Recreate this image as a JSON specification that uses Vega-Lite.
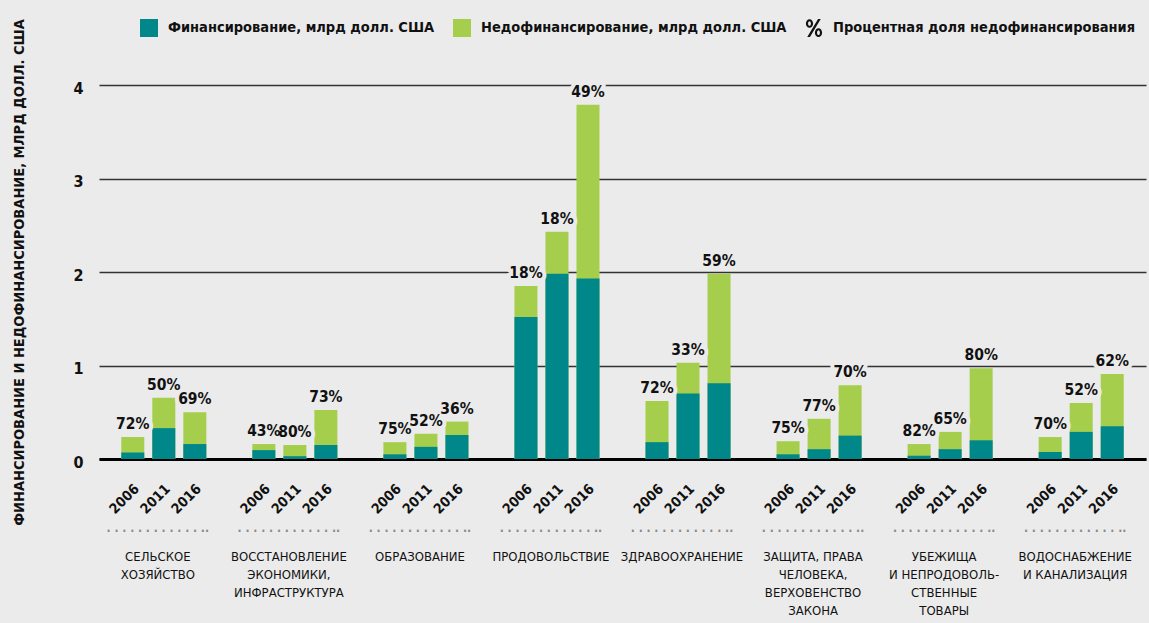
{
  "$schema": "https://vega.github.io/schema/vega-lite/v6.json",
  "autosize": "none",
  "width": 1047,
  "height": 374,
  "padding": {"left": 99, "top": 85, "right": 3, "bottom": 164},
  "background": "#ebebeb",
  "config": {
    "font": "DejaVu Sans Condensed, sans-serif",
    "view": {"stroke": null}
  },
  "data": {
    "values": [
      {"c": "СЕЛЬСКОЕ\nХОЗЯЙСТВО", "y": "2006", "f": 0.07, "t": 0.235, "p": 0.72},
      {"c": "СЕЛЬСКОЕ\nХОЗЯЙСТВО", "y": "2011", "f": 0.33, "t": 0.655, "p": 0.50},
      {"c": "СЕЛЬСКОЕ\nХОЗЯЙСТВО", "y": "2016", "f": 0.16, "t": 0.5, "p": 0.69},
      {"c": "ВОССТАНОВЛЕНИЕ\nЭКОНОМИКИ,\nИНФРАСТРУКТУРА", "y": "2006", "f": 0.095, "t": 0.16, "p": 0.43},
      {"c": "ВОССТАНОВЛЕНИЕ\nЭКОНОМИКИ,\nИНФРАСТРУКТУРА", "y": "2011", "f": 0.03, "t": 0.15, "p": 0.80},
      {"c": "ВОССТАНОВЛЕНИЕ\nЭКОНОМИКИ,\nИНФРАСТРУКТУРА", "y": "2016", "f": 0.15, "t": 0.525, "p": 0.73},
      {"c": "ОБРАЗОВАНИЕ", "y": "2006", "f": 0.05, "t": 0.18, "p": 0.75},
      {"c": "ОБРАЗОВАНИЕ", "y": "2011", "f": 0.13, "t": 0.27, "p": 0.52},
      {"c": "ОБРАЗОВАНИЕ", "y": "2016", "f": 0.257, "t": 0.4, "p": 0.36},
      {"c": "ПРОДОВОЛЬСТВИЕ", "y": "2006", "f": 1.52, "t": 1.85, "p": 0.18},
      {"c": "ПРОДОВОЛЬСТВИЕ", "y": "2011", "f": 1.98, "t": 2.43, "p": 0.18},
      {"c": "ПРОДОВОЛЬСТВИЕ", "y": "2016", "f": 1.93, "t": 3.79, "p": 0.49},
      {"c": "ЗДРАВООХРАНЕНИЕ", "y": "2006", "f": 0.18, "t": 0.62, "p": 0.72},
      {"c": "ЗДРАВООХРАНЕНИЕ", "y": "2011", "f": 0.7, "t": 1.03, "p": 0.33},
      {"c": "ЗДРАВООХРАНЕНИЕ", "y": "2016", "f": 0.81, "t": 1.98, "p": 0.59},
      {"c": "ЗАЩИТА, ПРАВА\nЧЕЛОВЕКА,\nВЕРХОВЕНСТВО\nЗАКОНА", "y": "2006", "f": 0.05, "t": 0.19, "p": 0.75},
      {"c": "ЗАЩИТА, ПРАВА\nЧЕЛОВЕКА,\nВЕРХОВЕНСТВО\nЗАКОНА", "y": "2011", "f": 0.105, "t": 0.43, "p": 0.77},
      {"c": "ЗАЩИТА, ПРАВА\nЧЕЛОВЕКА,\nВЕРХОВЕНСТВО\nЗАКОНА", "y": "2016", "f": 0.25, "t": 0.79, "p": 0.70},
      {"c": "УБЕЖИЩА\nИ НЕПРОДОВОЛЬ-\nСТВЕННЫЕ\nТОВАРЫ", "y": "2006", "f": 0.035, "t": 0.16, "p": 0.82},
      {"c": "УБЕЖИЩА\nИ НЕПРОДОВОЛЬ-\nСТВЕННЫЕ\nТОВАРЫ", "y": "2011", "f": 0.105, "t": 0.29, "p": 0.65},
      {"c": "УБЕЖИЩА\nИ НЕПРОДОВОЛЬ-\nСТВЕННЫЕ\nТОВАРЫ", "y": "2016", "f": 0.2, "t": 0.97, "p": 0.80},
      {"c": "ВОДОСНАБЖЕНИЕ\nИ КАНАЛИЗАЦИЯ", "y": "2006", "f": 0.075, "t": 0.235, "p": 0.70},
      {"c": "ВОДОСНАБЖЕНИЕ\nИ КАНАЛИЗАЦИЯ", "y": "2011", "f": 0.29, "t": 0.6, "p": 0.52},
      {"c": "ВОДОСНАБЖЕНИЕ\nИ КАНАЛИЗАЦИЯ", "y": "2016", "f": 0.35, "t": 0.91, "p": 0.62}
    ]
  },
  "encoding": {
    "x": {
      "field": "c", "type": "nominal", "sort": null,
      "scale": {"paddingInner": 0.351, "paddingOuter": 0.17},
      "axis": {
        "title": null, "orient": "bottom",
        "domain": true, "domainColor": "#000", "domainWidth": 3,
        "ticks": false, "labelAngle": 0, "labelAlign": "center", "labelBaseline": "top",
        "labelPadding": 91, "labelOffset": -6, "labelFontSize": 13, "labelLineHeight": 18,
        "labelColor": "#111", "labelLimit": 0,
        "labelExpr": "split(datum.label, '\\n')"
      }
    },
    "xOffset": {"field": "y", "type": "nominal", "scale": {"paddingInner": 0.258, "paddingOuter": 0}}
  },
  "layer": [
    {
      "mark": {"type": "bar"},
      "encoding": {
        "y": {
          "field": "t", "type": "quantitative",
          "scale": {"domain": [0, 4], "nice": false},
          "axis": {
            "values": [0, 1, 2, 3, 4], "format": "d", "domain": false, "ticks": false,
            "grid": true, "gridColor": "#333", "gridWidth": 1.5,
            "labelFontSize": 16, "labelFontWeight": "bold", "labelColor": "#111",
            "labelPadding": 16, "labelOffset": 3,
            "title": "ФИНАНСИРОВАНИЕ И НЕДОФИНАНСИРОВАНИЕ, МЛРД ДОЛЛ. США",
            "titleFontSize": 14.5, "titleFontWeight": "bold", "titleColor": "#111",
            "titleX": -80, "titleAngle": 270, "titleBaseline": "middle", "titleAlign": "center"
          }
        },
        "color": {
          "datum": "Недофинансирование, млрд долл. США",
          "type": "nominal",
          "scale": {
            "domain": ["Финансирование, млрд долл. США", "Недофинансирование, млрд долл. США", "Процентная доля недофинансирования"],
            "range": ["#00878a", "#a6ce4d", "#111111"]
          },
          "legend": {
            "title": null, "orient": "none", "legendX": 41, "legendY": -66,
            "direction": "horizontal", "gridAlign": "none", "symbolType": "square", "symbolSize": 324,
            "symbolStrokeWidth": 0, "symbolOpacity": 1,
            "labelFontSize": 14.5, "labelFontWeight": "bold", "labelColor": "#111",
            "labelOffset": 10, "columnPadding": 18, "labelLimit": 0,
            "encode": {
              "symbols": {
                "update": {
                  "shape": {"signal": "datum.value == 'Процентная доля недофинансирования' ? 'M-0.9,-0.5A0.4,0.48 0 1,1 -0.1,-0.5A0.4,0.48 0 1,1 -0.9,-0.5Z M-0.66,-0.5A0.16,0.26 0 1,0 -0.34,-0.5A0.16,0.26 0 1,0 -0.66,-0.5Z M0.1,0.52A0.4,0.48 0 1,1 0.9,0.52A0.4,0.48 0 1,1 0.1,0.52Z M0.34,0.52A0.16,0.26 0 1,0 0.66,0.52A0.16,0.26 0 1,0 0.34,0.52Z M0.45,-1L0.75,-1L-0.45,1L-0.75,1Z' : 'square'"}
                }
              }
            }
          }
        }
      }
    },
    {
      "mark": {"type": "bar"},
      "encoding": {
        "y": {"field": "f", "type": "quantitative"},
        "color": {"datum": "Финансирование, млрд долл. США", "type": "nominal"}
      }
    },
    {
      "mark": {"type": "text", "baseline": "alphabetic", "dy": -8, "fontSize": 15.5, "fontWeight": "bold", "stroke": "#ebebeb", "strokeWidth": 8, "fill": "#ebebeb", "strokeJoin": "round"},
      "encoding": {
        "y": {"field": "t", "type": "quantitative"},
        "text": {"field": "p", "type": "quantitative", "format": ".0%"}
      }
    },
    {
      "mark": {"type": "text", "baseline": "alphabetic", "dy": -8, "fontSize": 15.5, "fontWeight": "bold", "color": "#111"},
      "encoding": {
        "y": {"field": "t", "type": "quantitative"},
        "text": {"field": "p", "type": "quantitative", "format": ".0%"}
      }
    },
    {
      "transform": [{"filter": "datum.y == '2011'"}],
      "mark": {"type": "text", "text": "· · · · · · · · · · · · ··", "fontSize": 12, "fontWeight": "bold", "color": "#8a8a8a", "baseline": "middle", "dx": -6, "dy": 72},
      "encoding": {
        "y": {"datum": 0}
      }
    },
    {
      "mark": {"type": "text", "angle": -45, "align": "right", "baseline": "middle", "fontSize": 14, "fontWeight": "bold", "color": "#111", "dx": 3, "dy": 3},
      "encoding": {
        "y": {"datum": -0.3},
        "text": {"field": "y", "type": "nominal"}
      }
    }
  ]
}
